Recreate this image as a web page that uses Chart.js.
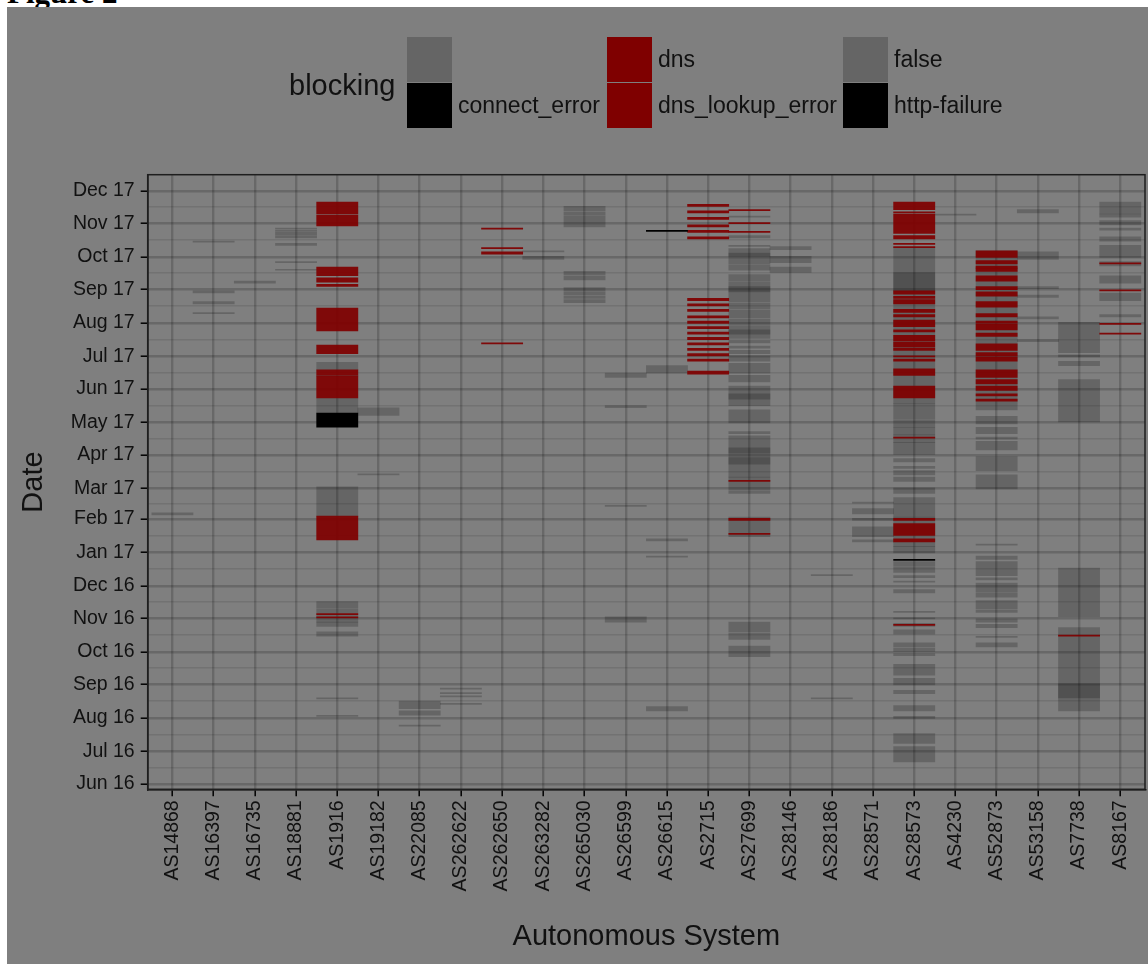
<!DOCTYPE html>
<html><head><meta charset="utf-8">
<script src="https://cdn.jsdelivr.net/npm/chart.js@4.4.1/dist/chart.umd.min.js"></script>
<style>
html,body{margin:0;padding:0;background:#fff;width:1148px;height:964px;overflow:hidden;}
#fig{position:absolute;left:7px;top:-23px;font:bold 31px "Liberation Serif","DejaVu Serif",serif;line-height:1;color:#000;white-space:nowrap;}
#panel{position:absolute;left:7px;top:7px;right:0;bottom:0;background:#7f7f7f;}
canvas{position:absolute;left:0;top:0;}
.lg{position:absolute;font-family:"Liberation Sans",Arial,sans-serif;color:#111;white-space:nowrap;line-height:1;}
.key{position:absolute;width:45px;height:45px;}
</style></head><body>
<div id="fig">Figure 2</div>
<div id="panel"></div>
<canvas id="c" width="1148" height="964"></canvas>
<div id="legend"></div>
<script>
// ---------------- data ----------------
const asNames = ["AS14868","AS16397","AS16735","AS18881","AS1916","AS19182","AS22085","AS262622","AS262650","AS263282","AS265030","AS26599","AS26615","AS2715","AS27699","AS28146","AS28186","AS28571","AS28573","AS4230","AS52873","AS53158","AS7738","AS8167"];

// day offsets are "days since 2016-06-01"
const BASE_DATE = "2016-06-01";
const dateTickLabels = ["Jun 16","Jul 16","Aug 16","Sep 16","Oct 16","Nov 16","Dec 16","Jan 17","Feb 17","Mar 17","Apr 17","May 17","Jun 17","Jul 17","Aug 17","Sep 17","Oct 17","Nov 17","Dec 17"];
const dateTickDays   = [0,30,61,92,122,153,183,214,245,273,304,334,365,395,426,457,487,518,548];

const legendLabels = ["", "connect_error", "dns", "dns_lookup_error", "false", "http-failure"];
const legendColors = ["rgba(0,0,0,0.2)", "#000000", "#7f0000", "#7f0000", "rgba(0,0,0,0.2)", "#000000"];

// runs: [AS, first day, last day]  (inclusive)
const falseRuns = [
 ["AS14868",249,250],
 ["AS16397",501,501],["AS16397",454,455],["AS16397",444,445],["AS16397",435,435],
 ["AS16735",463,464],
 ["AS18881",513,513],["AS18881",511,511],["AS18881",508,509],["AS18881",505,506],["AS18881",498,499],["AS18881",482,482],["AS18881",475,475],
 ["AS1916",383,389],["AS1916",377,377],["AS1916",343,356],["AS1916",248,274],["AS1916",163,168],["AS1916",158,161],["AS1916",150,156],["AS1916",146,149],["AS1916",137,140],["AS1916",79,79],["AS1916",63,63],
 ["AS19182",341,347],["AS19182",286,286],
 ["AS22085",70,76],["AS22085",64,67],["AS22085",54,54],
 ["AS262622",88,88],["AS262622",84,84],["AS262622",81,81],["AS262622",74,74],
 ["AS263282",492,492],["AS263282",485,487],
 ["AS265030",530,533],["AS265030",526,528],["AS265030",515,524],["AS265030",471,473],["AS265030",466,469],["AS265030",456,458],["AS265030",452,454],["AS265030",449,450],["AS265030",445,447],
 ["AS26599",376,379],["AS26599",348,349],["AS26599",257,257],["AS26599",150,154],
 ["AS26615",380,386],["AS26615",225,226],["AS26615",210,210],["AS26615",68,71],
 ["AS27699",524,524],["AS27699",505,506],["AS27699",497,497],["AS27699",481,494],["AS27699",488,490],["AS27699",475,479],["AS27699",465,470],["AS27699",446,463],["AS27699",455,459],["AS27699",439,444],["AS27699",431,437],["AS27699",425,429],["AS27699",412,423],["AS27699",416,419],["AS27699",408,409],["AS27699",403,404],["AS27699",398,400],["AS27699",391,395],["AS27699",380,388],["AS27699",372,377],["AS27699",350,367],["AS27699",356,360],["AS27699",334,345],["AS27699",324,325],["AS27699",284,321],["AS27699",296,301],["AS27699",306,310],["AS27699",272,283],["AS27699",269,270],["AS27699",229,246],["AS27699",141,149],["AS27699",134,139],["AS27699",118,127],
 ["AS28146",494,496],["AS28146",482,487],["AS28146",473,477],
 ["AS28186",193,193],["AS28186",79,79],
 ["AS28571",260,260],["AS28571",250,254],["AS28571",244,245],["AS28571",229,237],["AS28571",224,225],
 ["AS28573",456,495],["AS28573",456,472],["AS28573",352,455],["AS28573",338,351],["AS28573",330,336],["AS28573",323,329],["AS28573",316,322],["AS28573",305,315],["AS28573",298,300],["AS28573",292,293],["AS28573",286,289],["AS28573",280,283],["AS28573",273,273],["AS28573",269,272],["AS28573",247,264],["AS28573",220,246],["AS28573",214,219],["AS28573",202,205],["AS28573",196,200],["AS28573",191,192],["AS28573",187,187],["AS28573",177,179],["AS28573",159,159],["AS28573",153,153],["AS28573",146,148],["AS28573",139,142],["AS28573",127,130],["AS28573",123,125],["AS28573",119,120],["AS28573",101,110],["AS28573",92,97],["AS28573",84,86],["AS28573",68,72],["AS28573",61,62],["AS28573",38,46],["AS28573",21,34],
 ["AS4230",526,526],
 ["AS52873",346,492],["AS52873",333,339],["AS52873",324,329],["AS52873",319,320],["AS52873",309,316],["AS52873",290,302],["AS52873",273,285],["AS52873",221,221],["AS52873",208,210],["AS52873",193,205],["AS52873",189,190],["AS52873",178,185],["AS52873",173,176],["AS52873",162,169],["AS52873",159,160],["AS52873",150,152],["AS52873",145,147],["AS52873",136,136],["AS52873",127,130],
 ["AS53158",528,530],["AS53158",485,491],["AS53158",458,459],["AS53158",450,451],["AS53158",430,431],["AS53158",409,410],
 ["AS7738",399,426],["AS7738",395,396],["AS7738",387,390],["AS7738",335,373],["AS7738",155,199],["AS7738",68,144],["AS7738",80,92],
 ["AS8167",527,537],["AS8167",524,526],["AS8167",517,520],["AS8167",512,513],["AS8167",502,505],["AS8167",487,497],["AS8167",479,482],["AS8167",463,469],["AS8167",447,453],["AS8167",432,433]
];

const dnsRuns = [
 ["AS1916",527,537],["AS1916",516,525],["AS1916",470,477],["AS1916",464,467],["AS1916",460,461],["AS1916",419,439],["AS1916",398,405],["AS1916",378,382],["AS1916",357,376],["AS1916",226,247],["AS1916",157,157],["AS1916",154,154],
 ["AS262650",513,513],["AS262650",495,495],["AS262650",490,491],["AS262650",407,407],
 ["AS2715",534,535],["AS2715",528,529],["AS2715",522,523],["AS2715",515,516],["AS2715",510,511],["AS2715",504,505],["AS2715",447,448],["AS2715",442,443],["AS2715",437,438],["AS2715",431,432],["AS2715",426,427],["AS2715",421,422],["AS2715",416,417],["AS2715",411,412],["AS2715",406,407],["AS2715",401,402],["AS2715",396,397],["AS2715",391,392],["AS2715",379,381],
 ["AS27699",530,530],["AS27699",518,518],["AS27699",510,510],["AS27699",280,280],["AS27699",244,245],["AS27699",231,231],
 ["AS28573",531,537],["AS28573",528,528],["AS28573",509,526],["AS28573",504,506],["AS28573",499,499],["AS28573",496,496],["AS28573",453,455],["AS28573",449,450],["AS28573",444,447],["AS28573",436,438],["AS28573",432,433],["AS28573",423,428],["AS28573",418,419],["AS28573",410,414],["AS28573",404,408],["AS28573",401,402],["AS28573",395,395],["AS28573",391,392],["AS28573",378,383],["AS28573",357,367],["AS28573",320,320],["AS28573",244,245],["AS28573",230,240],["AS28573",224,226],["AS28573",147,147],
 ["AS52873",487,492],["AS52873",481,483],["AS52873",477,478],["AS52873",474,476],["AS52873",465,469],["AS52873",457,459],["AS52873",451,454],["AS52873",441,445],["AS52873",432,434],["AS52873",426,427],["AS52873",420,424],["AS52873",414,416],["AS52873",401,406],["AS52873",396,398],["AS52873",391,394],["AS52873",376,382],["AS52873",370,373],["AS52873",364,367],["AS52873",359,360],["AS52873",354,355],
 ["AS7738",137,137],
 ["AS8167",481,481],["AS8167",456,456],["AS8167",425,425],["AS8167",416,416]
];

const connectErrorRuns = [["AS1916",330,342]];
const httpFailureRuns  = [["AS26615",511,511],["AS28573",207,207]];

// ---------------- rendering ----------------
const FONT = '"Liberation Sans", Arial, Helvetica, sans-serif';
const TXT = '#111111';

// legend (3 columns x 2 rows, filled by column)
(function buildLegend(){
  const lg = document.getElementById('legend');
  const t = document.createElement('div');
  t.className = 'lg'; t.textContent = 'blocking';
  t.style.cssText = 'left:289px;top:71px;font-size:29px;';
  lg.appendChild(t);
  const colX = [407, 607, 843];
  const rowY = [37, 82.5];
  legendLabels.forEach((lab, i) => {
    const c = Math.floor(i / 2), r = i % 2;
    const k = document.createElement('div');
    k.className = 'key';
    k.style.left = colX[c] + 'px'; k.style.top = rowY[r] + 'px';
    k.style.background = legendColors[i];
    lg.appendChild(k);
    const l = document.createElement('div');
    l.className = 'lg'; l.textContent = lab;
    l.style.left = (colX[c] + 51) + 'px';
    l.style.top = (rowY[r] + 11) + 'px';
    l.style.fontSize = '23px';
    lg.appendChild(l);
  });
})();

const idx = name => asNames.indexOf(name);
const toBars = runs => runs.map(([as, a, b]) => ({x: idx(as), y: [a - 0.5, b + 0.5]}));
const common = {barPercentage: 1, categoryPercentage: 1, grouped: false, borderWidth: 0, borderSkipped: false};

const MAJOR = 'rgba(0,0,0,0.18)';
const MINOR = 'rgba(0,0,0,0.10)';

const frame = {
  id: 'frame',
  afterDatasetsDraw(chart) {
    const {ctx, chartArea: a} = chart;
    ctx.save();
    ctx.strokeStyle = '#1e1e1e'; ctx.lineWidth = 1.5;
    ctx.strokeRect(a.left, a.top, a.right - a.left, a.bottom - a.top);
    ctx.restore();
  }
};

function dateTicks() {
  const t = [];
  for (let i = 0; i < dateTickDays.length; i++) {
    t.push({value: dateTickDays[i], minor: false});
    if (i < dateTickDays.length - 1) t.push({value: (dateTickDays[i] + dateTickDays[i + 1]) / 2, minor: true});
  }
  return t;
}

new Chart(document.getElementById('c'), {
  type: 'bar',
  data: {
    datasets: [
      {label: 'connect_error', data: toBars(connectErrorRuns), backgroundColor: '#000000', ...common},
      {label: 'http-failure', data: toBars(httpFailureRuns), backgroundColor: '#000000', ...common},
      {label: 'dns', data: toBars(dnsRuns), backgroundColor: 'rgba(127,0,0,0.93)', ...common},
      {label: 'false', data: toBars(falseRuns), backgroundColor: 'rgba(0,0,0,0.2)', ...common}
    ]
  },
  options: {
    responsive: false, animation: false, devicePixelRatio: 1,
    layout: {padding: {top: 174.7, right: 3, bottom: 0, left: 0}},
    plugins: {legend: {display: false}, tooltip: {enabled: false}},
    scales: {
      x: {
        type: 'linear', min: -0.6, max: asNames.length - 0.4, offset: false,
        afterBuildTicks: s => { s.ticks = asNames.map((n, i) => ({value: i})); },
        afterFit: s => { s.height = 174.7; },
        ticks: {autoSkip: false, minRotation: 90, maxRotation: 90, padding: 4, color: TXT,
                font: {family: FONT, size: 19.5, lineHeight: 1}, callback: v => asNames[v]},
        grid: {offset: false, color: MAJOR, lineWidth: 2.4, tickColor: '#000', tickLength: 7, tickWidth: 1.5},
        border: {color: '#000', width: 1.5},
        title: {display: true, text: 'Autonomous System', color: TXT, font: {family: FONT, size: 29, lineHeight: 1}, padding: {top: 0, bottom: 13}}
      },
      y: {
        type: 'linear', min: -4.9, max: 562.8,
        afterBuildTicks: s => { s.ticks = dateTicks(); },
        afterFit: s => { s.width = 147.7; },
        ticks: {autoSkip: false, padding: 6, color: TXT, font: {family: FONT, size: 19.5, lineHeight: 1},
                callback: v => { const i = dateTickDays.indexOf(v); return i < 0 ? '' : dateTickLabels[i]; }},
        grid: {
          color: c => (c.tick && c.tick.minor) ? MINOR : MAJOR,
          lineWidth: c => (c.tick && c.tick.minor) ? 1.5 : 2.4,
          tickColor: c => (c.tick && c.tick.minor) ? 'rgba(0,0,0,0)' : '#000',
          tickLength: 7, tickWidth: 1.5
        },
        border: {color: '#000', width: 1.5},
        title: {display: true, text: 'Date', color: TXT, font: {family: FONT, size: 29, lineHeight: 1}, padding: {top: 19, bottom: 0}}
      }
    }
  },
  plugins: [frame]
});
</script>
</body></html>
